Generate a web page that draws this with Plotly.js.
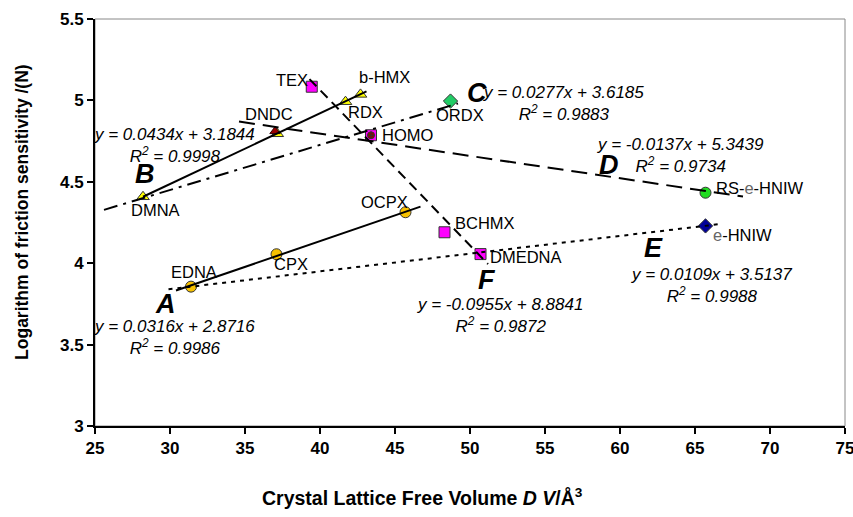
<!DOCTYPE html>
<html><head><meta charset="utf-8">
<script src="https://cdn.plot.ly/plotly-3.0.1.min.js"></script>
<style>html,body{margin:0;padding:0;background:#fff}#chart{width:853px;height:517px}</style>
</head><body><div id="chart"></div>
<script>
// ---------- data ----------
const circNames = ['EDNA', 'CPX', 'OCPX'];
const circX = [31.4, 37.1, 45.7];
const circY = [3.856, 4.055, 4.313];

const triNames = ['DMNA', 'DNDC', 'RDX', 'b-HMX'];
const triX = [28.2, 37.15, 41.7, 42.7];
const triY = [4.408, 4.795, 4.992, 5.037];

const sqNames = ['TEX', 'HOMO', 'BCHMX', 'DMEDNA'];
const sqX = [39.45, 43.4, 48.3, 50.7];
const sqY = [5.084, 4.786, 4.19, 4.056];

const ordxX = [48.7];
const ordxY = [4.996];

const rsX = [65.7];
const rsY = [4.433];

const ehX = [65.7];
const ehY = [4.229];

const redX = [37.0, 43.4];
const redY = [4.81, 4.786];

const lineNames = ['A', 'B', 'C', 'D', 'E', 'F'];
const lineSlope = [0.0316, 0.0434, 0.0277, -0.0137, 0.0109, -0.0955];
const lineIntercept = [2.8716, 3.1844, 3.6185, 5.3439, 3.5137, 8.8841];
const lineR2 = ['0.9986', '0.9998', '0.9883', '0.9734', '0.9988', '0.9872'];
const lineXStart = [30.4, 28.2, 25.6, 34.6, 29.9, 39.3];
const lineXEnd = [46.7, 43.1, 49.2, 68.2, 66.6, 51.2];

const xTitle = 'Crystal Lattice Free Volume <i>D V</i>/Å<sup>3</sup>';
const yTitle = 'Logarithm of friction sensitivity /(N)';

// ---------- styles / placement ----------
const FONT = 'Liberation Sans, Arial, sans-serif';
const lineDash = ['solid', 'solid', '14px,6px,3px,6px', '16px,8px', '4px,5px', '10px,6px'];
const letterPos = [[29.73, 3.749], [28.33, 4.545], [50.47, 5.045], [59.27, 4.605], [62.2, 4.093], [51.13, 3.897]];
const eqPos = [[30.27, 3.541], [30.33, 4.72], [56.2, 4.978], [64.0, 4.662], [66.13, 3.86], [52.0, 3.676]];

const labelPlace = {
  'EDNA': [3, 15, 'center'], 'CPX': [14, -10, 'center'], 'OCPX': [-21, 10, 'center'],
  'DMNA': [12, -13, 'center'], 'DNDC': [-8, 20, 'center'], 'RDX': [20, -10, 'center'], 'b-HMX': [24, 17, 'center'],
  'TEX': [-2, 7, 'right'], 'HOMO': [9, 0, 'left'], 'BCHMX': [8, 9, 'left'], 'DMEDNA': [7, -3, 'left']
};
const LBL = 16.5, EQ = 17;

const mk = (sym, col, size) => ({symbol: sym, color: col, size: size, line: {color: '#333', width: 1}});

const traces = [
  {x: circX, y: circY, mode: 'markers', marker: mk('circle', '#F7C100', 11)},
  {x: triX, y: triY, mode: 'markers', marker: mk('triangle-up', '#FFFF00', 11)},
  {x: sqX, y: sqY, mode: 'markers', marker: mk('square', '#FF00FF', 11)},
  {x: ordxX, y: ordxY, mode: 'markers', marker: mk('diamond', '#22CC66', 11)},
  {x: rsX, y: rsY, mode: 'markers', marker: mk('circle', '#22DD22', 11)},
  {x: ehX, y: ehY, mode: 'markers', marker: mk('diamond', '#000099', 11)},
  {x: [redX[0]], y: [redY[0]], mode: 'markers', marker: {symbol: 'triangle-up', color: '#990000', size: 9, line: {color: '#330000', width: 1}}},
  {x: [redX[1]], y: [redY[1]], mode: 'markers', marker: {symbol: 'circle-cross', color: '#990000', size: 7, line: {color: '#333', width: 1}}}
];

lineNames.forEach((n, i) => {
  const xs = [lineXStart[i], lineXEnd[i]];
  traces.push({
    x: xs, y: xs.map(v => lineSlope[i] * v + lineIntercept[i]),
    mode: 'lines', line: {color: '#000', width: 2, dash: lineDash[i]}
  });
});

const ann = [];
function addLabels(names, xs, ys) {
  names.forEach((n, i) => {
    const p = labelPlace[n];
    ann.push({x: xs[i], y: ys[i], text: n, showarrow: false, xanchor: p[2], yanchor: 'middle',
      xshift: p[0], yshift: p[1], font: {family: FONT, size: LBL, color: '#000'}});
  });
}
addLabels(circNames, circX, circY);
addLabels(triNames, triX, triY);
addLabels(sqNames, sqX, sqY);
ann.push({x: ordxX[0], y: ordxY[0], text: 'ORDX', showarrow: false, xshift: 9, yshift: -14, font: {family: FONT, size: LBL, color: '#000'}});
ann.push({x: rsX[0], y: rsY[0], text: 'RS-<span style="color:#666">e</span>-HNIW', showarrow: false, xanchor: 'left', xshift: 8, yshift: 5, font: {family: FONT, size: LBL, color: '#000'}});
ann.push({x: ehX[0], y: ehY[0], text: '<span style="color:#666">e</span>-HNIW', showarrow: false, xanchor: 'left', xshift: 5, yshift: -9, font: {family: FONT, size: LBL, color: '#000'}});

lineNames.forEach((n, i) => {
  ann.push({x: letterPos[i][0], y: letterPos[i][1], text: '<b><i>' + n + '</i></b>', showarrow: false,
    font: {family: FONT, size: 27, color: '#000'}});
  const s = lineSlope[i], b = lineIntercept[i];
  const eq = 'y = ' + s.toFixed(4) + 'x + ' + b.toFixed(4);
  ann.push({x: eqPos[i][0], y: eqPos[i][1], text: '<i>' + eq + '<br>R<sup>2</sup> = ' + lineR2[i] + '</i>',
    showarrow: false, align: 'center', font: {family: FONT, size: EQ, color: '#000'}});
});

// axis titles (placed as in the reference, off-centre)
ann.push({xref: 'paper', yref: 'paper', x: 0.437, y: -0.1745, text: '<b>' + xTitle + '</b>', showarrow: false,
  xanchor: 'center', yanchor: 'middle', font: {family: FONT, size: 19.5, color: '#000'}});
ann.push({xref: 'paper', yref: 'paper', x: -0.0973, y: 0.526, text: '<b>' + yTitle + '</b>', showarrow: false,
  textangle: -90, xanchor: 'center', yanchor: 'middle', font: {family: FONT, size: 17.5, color: '#000'}});

const axisCommon = {
  showgrid: false, zeroline: false, showline: true, linecolor: '#000', linewidth: 2,
  ticks: 'outside', ticklen: 6, tickwidth: 2, tickcolor: '#000', ticklabeloverflow: 'allow',
  tickfont: {family: FONT, size: 17, color: '#000', weight: 'bold'}
};

const layout = {
  width: 853, height: 517,
  margin: {l: 95, r: 8, t: 19, b: 91},
  paper_bgcolor: '#fff', plot_bgcolor: '#fff',
  showlegend: false,
  hovermode: false,
  xaxis: Object.assign({}, axisCommon, {range: [25, 75], tick0: 25, dtick: 5}),
  yaxis: Object.assign({}, axisCommon, {range: [3, 5.5], tick0: 3, dtick: 0.5}),
  shapes: [{type: 'rect', xref: 'paper', yref: 'paper', x0: 0, x1: 1, y0: 0, y1: 1,
    line: {color: '#888', width: 1}, layer: 'below'}],
  annotations: ann
};

Plotly.newPlot('chart', traces, layout, {staticPlot: true, displayModeBar: false});
</script>
</body></html>
